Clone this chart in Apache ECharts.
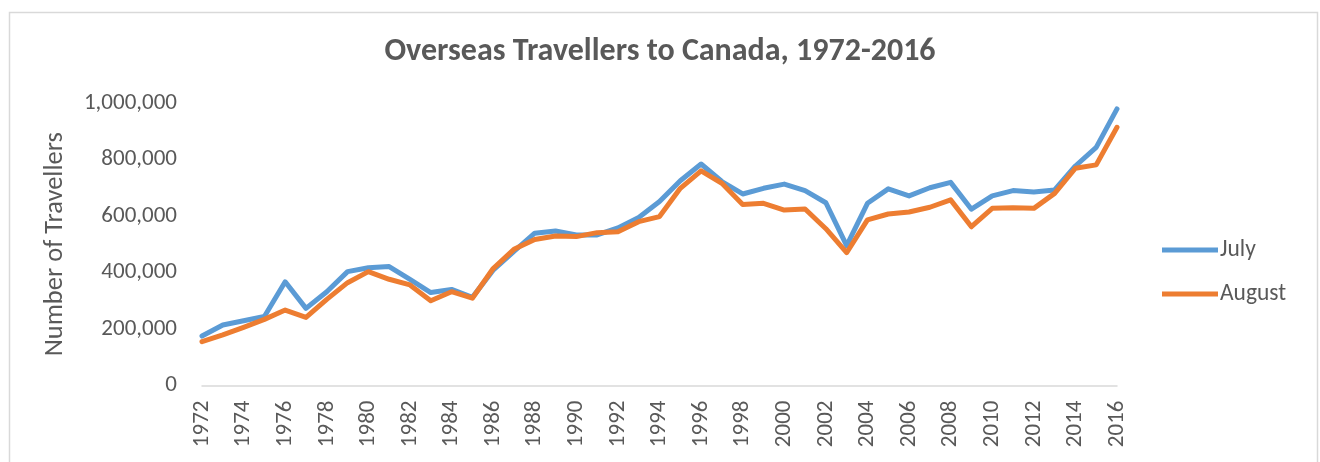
<!DOCTYPE html>
<html>
<head>
<meta charset="utf-8">
<script src="https://cdn.jsdelivr.net/npm/echarts@6/dist/echarts.min.js"></script>
<style>
    html, body { margin: 0; padding: 0; background: #fff; }
    #chart { width: 1320px; height: 462px; }
</style>
</head>
<body>
<div id="chart"></div>
<script>
// 年份
const years = [];
for (let y = 1972; y <= 2016; y++) years.push(String(y));

// 七月
const july = [
    175000, 214000, 229000, 244000, 367000, 273000, 332000, 403000, 417000, 421000,
    376000, 329000, 340000, 312000, 408000, 475000, 539000, 547000, 533000, 533000,
    558000, 595000, 651000, 725000, 784000, 722000, 678000, 698000, 713000, 690000,
    647000, 495000, 645000, 696000, 671000, 700000, 719000, 624000, 671000, 690000,
    685000, 692000, 777000, 843000, 979000
];

// 八月
const august = [
    155000, 179000, 206000, 234000, 267000, 241000, 305000, 364000, 403000, 376000,
    356000, 300000, 332000, 309000, 414000, 482000, 517000, 529000, 527000, 541000,
    544000, 580000, 598000, 698000, 760000, 716000, 641000, 645000, 621000, 625000,
    555000, 470000, 586000, 607000, 614000, 631000, 657000, 562000, 627000, 629000,
    627000, 680000, 769000, 781000, 914000
];

const yTicks = { min: 0, max: 1000000, interval: 200000 };

const font = 'Carlito, Calibri, Lato, "Open Sans", sans-serif';
const textColor = '#595959';

const chart = echarts.init(document.getElementById('chart'));

const option = {
    backgroundColor: '#fff',
    animation: false,
    textStyle: { fontFamily: font },
    graphic: [{
        type: 'rect',
        left: 7,
        top: 10,
        shape: { width: 1308, height: 470 },
        style: { fill: 'none', stroke: '#d9d9d9', lineWidth: 1.5 },
        silent: true
    }],
    title: {
        text: 'Overseas Travellers to Canada, 1972-2016',
        left: 'center',
        top: 31,
        textStyle: { fontFamily: font, fontSize: 32, fontWeight: 'bold', color: textColor }
    },
    legend: {
        orient: 'vertical',
        left: 1157,
        top: 233,
        itemWidth: 56,
        itemHeight: 5,
        itemGap: 20,
        icon: 'rect',
        textStyle: { fontFamily: font, fontSize: 23.5, color: textColor, padding: [0, 0, 0, -3] },
        data: ['July', 'August']
    },
    grid: { left: 202, right: 203, top: 103, bottom: 76.5, containLabel: false },
    xAxis: {
        type: 'category',
        data: years,
        boundaryGap: false,
        axisLine: { lineStyle: { color: '#d9d9d9', width: 1.5 } },
        axisTick: { show: false },
        axisLabel: {
            interval: 1,
            rotate: 90,
            margin: 15,
            fontFamily: font,
            fontSize: 23,
            color: textColor
        }
    },
    yAxis: {
        type: 'value',
        min: yTicks.min,
        max: yTicks.max,
        interval: yTicks.interval,
        name: 'Number of Travellers',
        nameLocation: 'middle',
        nameGap: 133,
        nameTextStyle: { fontFamily: font, fontSize: 26.5, color: textColor },
        axisLine: { show: false },
        axisTick: { show: false },
        splitLine: { show: false },
        axisLabel: {
            margin: 25,
            fontFamily: font,
            fontSize: 23,
            color: textColor,
            formatter: v => v.toLocaleString('en-US')
        }
    },
    series: [
        {
            name: 'July',
            type: 'line',
            data: july,
            symbol: 'none',
            color: '#5B9BD5',
            lineStyle: { width: 5, cap: 'round', join: 'round' }
        },
        {
            name: 'August',
            type: 'line',
            data: august,
            symbol: 'none',
            color: '#ED7D31',
            lineStyle: { width: 5, cap: 'round', join: 'round' }
        }
    ]
};

chart.setOption(option);
</script>
</body>
</html>
